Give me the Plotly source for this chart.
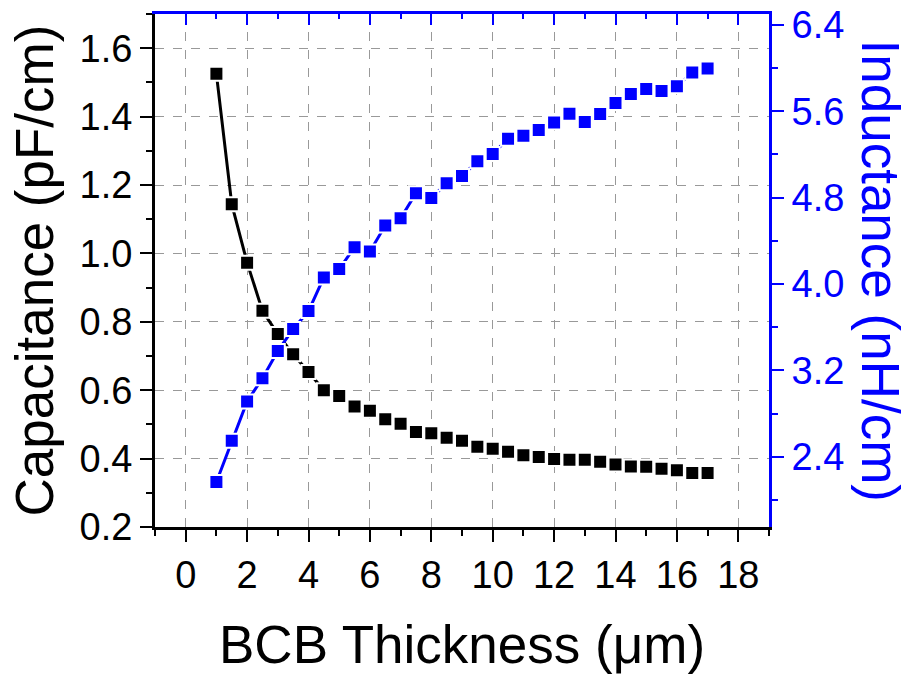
import plotly.graph_objects as go

thickness = [1, 1.5, 2, 2.5, 3, 3.5, 4, 4.5, 5, 5.5, 6, 6.5, 7, 7.5, 8, 8.5, 9,
             9.5, 10, 10.5, 11, 11.5, 12, 12.5, 13, 13.5, 14, 14.5, 15, 15.5, 16, 16.5, 17]
capacitance = [1.525, 1.144, 0.973, 0.832, 0.764, 0.705, 0.653, 0.600, 0.583, 0.552,
               0.540, 0.515, 0.502, 0.478, 0.474, 0.461, 0.452, 0.435, 0.429, 0.420,
               0.410, 0.405, 0.399, 0.397, 0.397, 0.391, 0.383, 0.377, 0.376, 0.370,
               0.366, 0.358, 0.358]
inductance = [2.166, 2.548, 2.912, 3.127, 3.380, 3.583, 3.749, 4.061, 4.138, 4.341,
              4.301, 4.541, 4.609, 4.840, 4.797, 4.932, 5.001, 5.136, 5.204, 5.345,
              5.373, 5.426, 5.496, 5.576, 5.500, 5.574, 5.675, 5.759, 5.805, 5.786,
              5.832, 5.958, 5.995]

x_title = "BCB Thickness (μm)"
y_title = "Capacitance (pF/cm)"
y2_title = "Inductance (nH/cm)"

FONT = "Arial, Liberation Sans, sans-serif"
BLUE = "#0000FF"

fig = go.Figure()
fig.add_trace(go.Scatter(
    x=thickness, y=capacitance, mode="lines+markers", yaxis="y",
    line=dict(color="black", width=3),
    marker=dict(symbol="square", size=14, color="black", line=dict(color="white", width=2)),
    showlegend=False))
fig.add_trace(go.Scatter(
    x=thickness, y=inductance, mode="lines+markers", yaxis="y2",
    line=dict(color=BLUE, width=3),
    marker=dict(symbol="square", size=14, color=BLUE, line=dict(color="white", width=2)),
    showlegend=False))
# invisible trace to activate the top axis
fig.add_trace(go.Scatter(x=[thickness[0]], y=[capacitance[0]], xaxis="x2", yaxis="y",
                         mode="markers", marker=dict(opacity=0), hoverinfo="skip",
                         showlegend=False))

fig.update_layout(
    width=909, height=674, autosize=False,
    margin=dict(l=155, r=140, t=14, b=147, pad=0),
    paper_bgcolor="white", plot_bgcolor="white",
    font=dict(family=FONT, color="black"),
    xaxis=dict(
        range=[-1, 19], tick0=0, dtick=2, ticks="outside", ticklen=12, tickwidth=2,
        tickcolor="black", showline=True, linecolor="black", linewidth=3,
        showgrid=True, gridcolor="#999999", griddash="dash", gridwidth=1,
        zeroline=False, automargin=False,
        tickfont=dict(size=38, family=FONT, color="black"),
        minor=dict(dtick=1, tick0=0, ticks="outside", ticklen=6, tickwidth=2,
                   tickcolor="black", showgrid=False),
    ),
    xaxis2=dict(
        range=[-1, 19], overlaying="x", side="top", tick0=0, dtick=2,
        ticks="inside", ticklen=11, tickwidth=2, tickcolor=BLUE,
        showline=True, linecolor=BLUE, linewidth=3, showgrid=False,
        zeroline=False, showticklabels=False, automargin=False,
        minor=dict(dtick=1, tick0=0, ticks="inside", ticklen=5, tickwidth=2,
                   tickcolor=BLUE, showgrid=False),
    ),
    yaxis=dict(
        range=[0.2, 1.7], tick0=0.2, dtick=0.2, tickformat=".1f",
        ticks="outside", ticklen=12, tickwidth=2, tickcolor="black",
        showline=True, linecolor="black", linewidth=3,
        showgrid=True, gridcolor="#999999", griddash="dash", gridwidth=1,
        zeroline=False, automargin=False,
        tickfont=dict(size=38, family=FONT, color="black"),
        minor=dict(dtick=0.1, tick0=0.2, ticks="outside", ticklen=6, tickwidth=2,
                   tickcolor="black", showgrid=False),
    ),
    yaxis2=dict(
        range=[1.75, 6.5], overlaying="y", side="right", tick0=0, dtick=0.8,
        tickformat=".1f", ticks="outside", ticklen=12, tickwidth=2, tickcolor=BLUE,
        showline=True, linecolor=BLUE, linewidth=3, showgrid=False, zeroline=False,
        automargin=False,
        tickfont=dict(size=38, family=FONT, color=BLUE),
        minor=dict(dtick=0.4, tick0=0, ticks="outside", ticklen=6, tickwidth=2,
                   tickcolor=BLUE, showgrid=False),
    ),
    annotations=[
        dict(text=x_title, xref="paper", yref="paper", x=0.5, y=-0.23,
             xanchor="center", yanchor="middle", showarrow=False,
             font=dict(size=53, family=FONT, color="black")),
        dict(text=y_title, xref="paper", yref="paper", x=(34 - 155) / 614, y=0.5,
             xanchor="center", yanchor="middle", textangle=-90, showarrow=False,
             font=dict(size=53, family=FONT, color="black")),
        dict(text=y2_title, xref="paper", yref="paper", x=(880 - 155) / 614, y=0.5,
             xanchor="center", yanchor="middle", textangle=90, showarrow=False,
             font=dict(size=53, family=FONT, color=BLUE)),
    ],
)

fig.write_html("out.html")
